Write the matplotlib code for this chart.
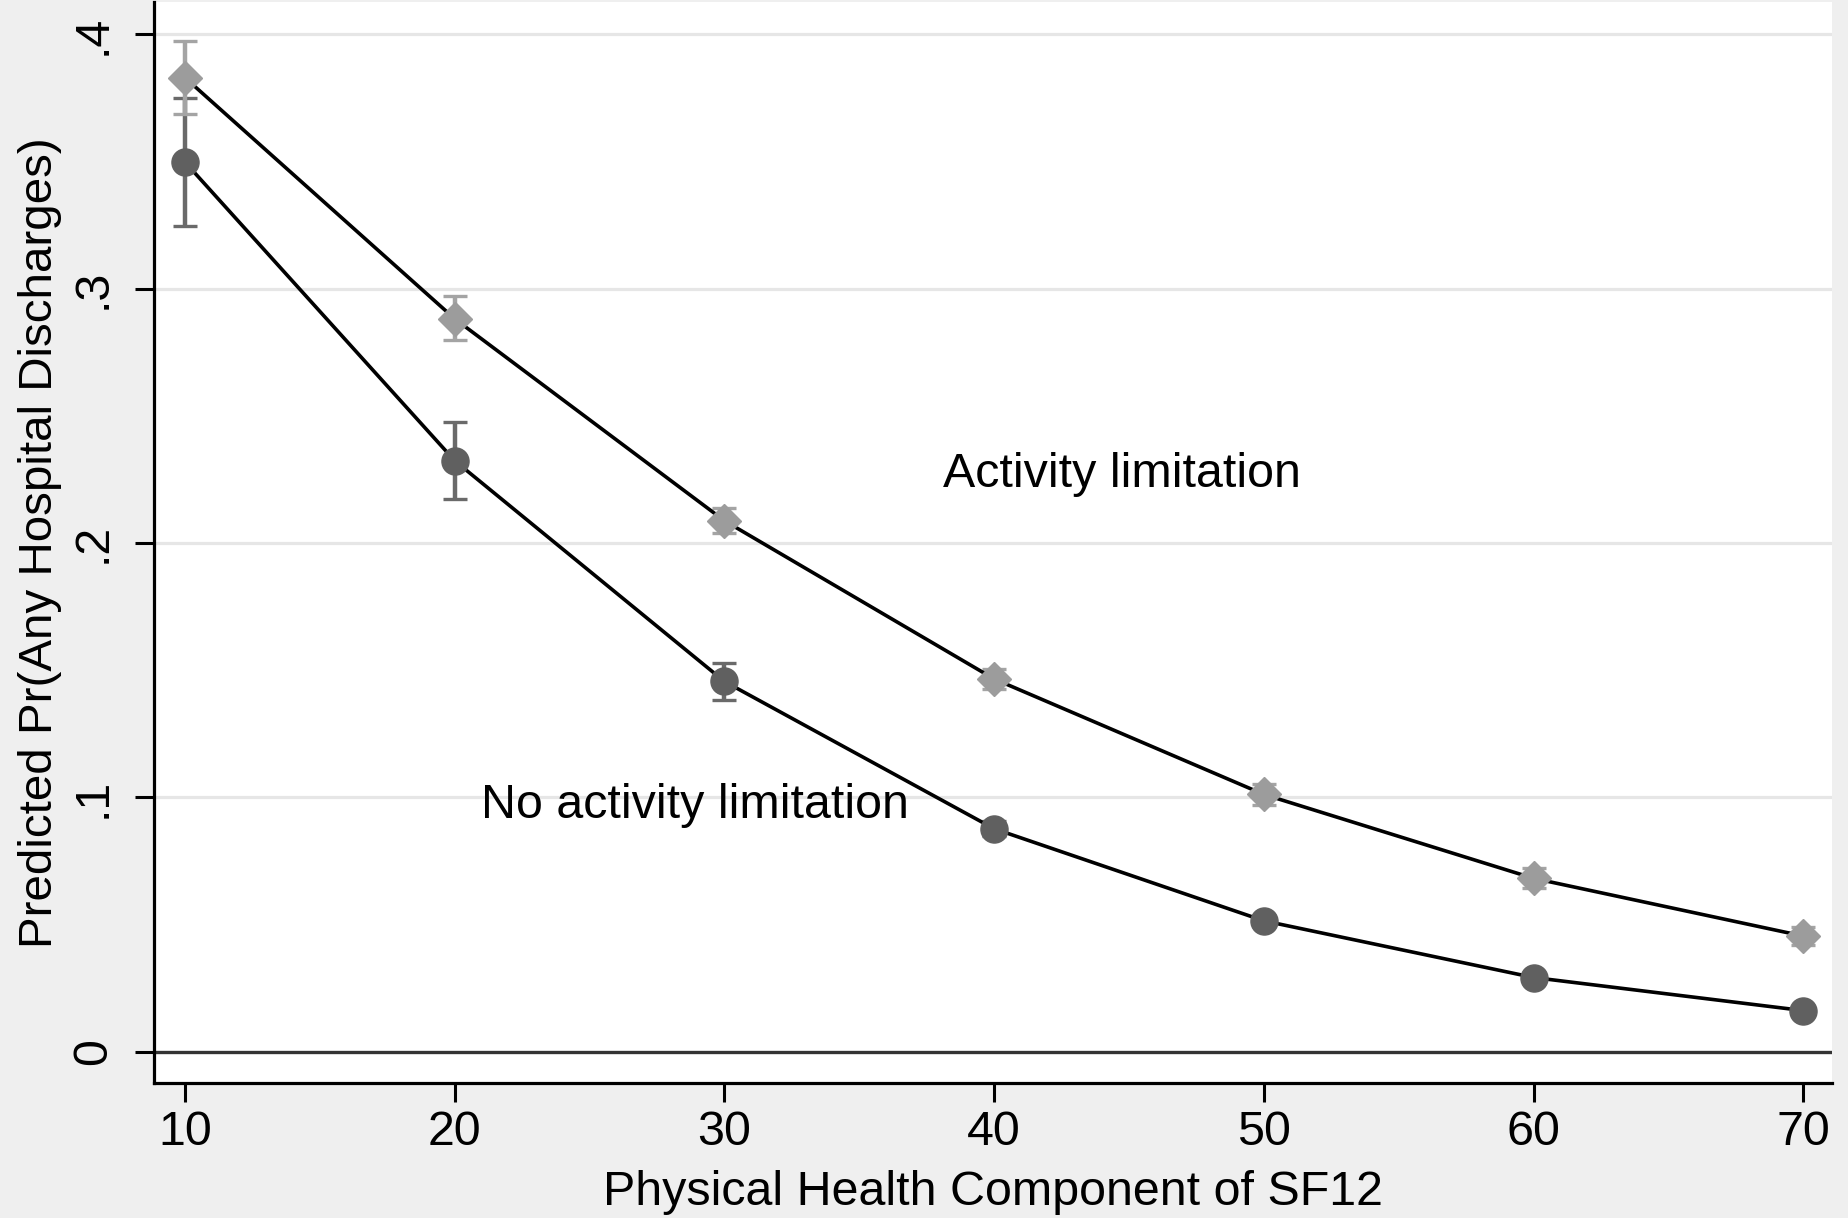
import matplotlib
matplotlib.use("Agg")
import matplotlib.pyplot as plt
import numpy as np

plt.rcParams['font.family'] = ['Liberation Sans', 'DejaVu Sans']

# predicted probabilities
pcs = [10, 20, 30, 40, 50, 60, 70]

no_lim = [0.3498, 0.2324, 0.1456, 0.0877, 0.0515, 0.0292, 0.0162]
no_lim_lo = [0.3246, 0.2174, 0.1384, 0.0847, 0.0495, 0.0277, 0.0152]
no_lim_hi = [0.3751, 0.2475, 0.1529, 0.0907, 0.0535, 0.0307, 0.0172]

act_lim = [0.3830, 0.2882, 0.2088, 0.1466, 0.1012, 0.0682, 0.0455]
act_lim_lo = [0.3688, 0.2797, 0.2040, 0.1426, 0.0972, 0.0642, 0.0420]
act_lim_hi = [0.3974, 0.2971, 0.2140, 0.1506, 0.1052, 0.0722, 0.0490]

yticks = [0, 0.1, 0.2, 0.3, 0.4]
yticklabels = ['0', '.1', '.2', '.3', '.4']

fs = 34.8

fig = plt.figure(figsize=(18.49, 12.18), dpi=100, facecolor='#efefef')
ax = fig.add_axes([0.0833, 0.111, 0.9077, 0.887])
ax.set_facecolor('white')


def draw_series(y, lo, hi, marker, mcolor, ecolor, msize):
    y = np.array(y)
    err = [y - np.array(lo), np.array(hi) - y]
    ax.errorbar(pcs, y, yerr=err, fmt='none', ecolor=ecolor, elinewidth=3.2,
                capsize=8.6, capthick=2.4, zorder=3)
    ax.plot(pcs, y, color='black', lw=2.6, zorder=4)
    ax.plot(pcs, y, linestyle='none', marker=marker, markersize=msize,
            markerfacecolor=mcolor, markeredgecolor=mcolor, zorder=5)


draw_series(no_lim, no_lim_lo, no_lim_hi, 'o', '#606060', '#6a6a6a', 19.5)
draw_series(act_lim, act_lim_lo, act_lim_hi, 'D', '#9c9c9c', '#a4a4a4', 17.5)

# grid and zero reference line
for yv in yticks[1:]:
    ax.axhline(yv, color='#e6e6e6', lw=2.3, zorder=1)
ax.axhline(0, color='#333333', lw=2.4, zorder=1)

ax.text(38.1, 0.227, 'Activity limitation', fontsize=fs, va='center', ha='left')
ax.text(20.98, 0.097, 'No activity limitation', fontsize=fs, va='center', ha='left')

ax.set_xlim(8.85, 71.08)
ax.set_ylim(-0.0122, 0.4126)
ax.set_xticks(pcs)
ax.set_yticks(yticks)
ax.set_yticklabels(yticklabels, rotation=90, va='center')

for s in ['top', 'right']:
    ax.spines[s].set_visible(False)
for s in ['left', 'bottom']:
    ax.spines[s].set_linewidth(2.3)
    ax.spines[s].set_color('black')

ax.tick_params(axis='both', length=13.5, width=2.2, labelsize=fs, color='black')
ax.tick_params(axis='y', pad=14)
ax.tick_params(axis='x', pad=6)

ax.set_xlabel('Physical Health Component of SF12', fontsize=fs, labelpad=11)
ax.set_ylabel('Predicted Pr(Any Hospital Discharges)', fontsize=34.2, labelpad=6)

fig.savefig('out.png', dpi=100, facecolor=fig.get_facecolor())
